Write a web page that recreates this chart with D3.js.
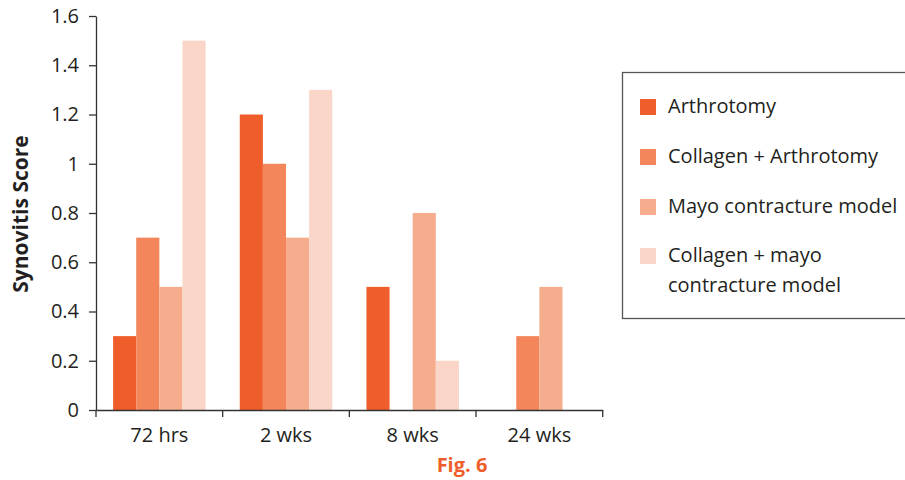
<!DOCTYPE html>
<html><head><meta charset="utf-8">
<script src="https://cdn.jsdelivr.net/npm/d3@7"></script>
<style>body{margin:0;background:#fff;} text{font-family:"Open Sans",sans-serif;}</style>
</head><body>
<svg id="chart" width="905" height="480"></svg>
<script>
const categories = ["72 hrs", "2 wks", "8 wks", "24 wks"];
const seriesNames = ["Arthrotomy", "Collagen + Arthrotomy", "Mayo contracture model", "Collagen + mayo contracture model"];
const arthrotomy = [0.3, 1.2, 0.5, 0];
const collagenArthrotomy = [0.7, 1.0, 0, 0.3];
const mayo = [0.5, 0.7, 0.8, 0.5];
const collagenMayo = [1.5, 1.3, 0.2, 0];
const yTicks = [0, 0.2, 0.4, 0.6, 0.8, 1, 1.2, 1.4, 1.6];
const colors = ["#EF5E2A", "#F3875B", "#F6AD8D", "#F9D6C7"];
const seriesValues = [arthrotomy, collagenArthrotomy, mayo, collagenMayo];

const svg = d3.select("#chart");
const mLeft = 96, mRight = 602.7, mTop = 16, mBottom = 410;
const axisColor = "#333";
const textColor = "#231f20";
const fs = "20px";

const x = d3.scaleBand().domain(categories).range([mLeft, mRight]).paddingInner(0.27).paddingOuter(0.135);
const x1 = d3.scaleBand().domain(seriesNames).range([0, x.bandwidth()]).padding(0);
const y = d3.scaleLinear().domain([0, 1.6]).range([mBottom, mTop]);

// bars
categories.forEach((c, ci) => {
  svg.append("g").selectAll("rect").data(seriesNames).join("rect")
    .attr("x", (s) => x(c) + x1(s))
    .attr("width", x1.bandwidth())
    .attr("y", (s, si) => y(seriesValues[si][ci]))
    .attr("height", (s, si) => y(0) - y(seriesValues[si][ci]))
    .attr("fill", (s, si) => colors[si]);
});

// y axis
const yAxis = svg.append("g").attr("transform", `translate(${mLeft},0)`)
  .call(d3.axisLeft(y).tickValues(yTicks).tickFormat(d3.format("~g")).tickSize(7).tickSizeOuter(0).tickPadding(10));
yAxis.select(".domain").attr("stroke", axisColor).attr("stroke-width", 1.3);
yAxis.selectAll(".tick line").attr("stroke", axisColor).attr("stroke-width", 1.3);
yAxis.selectAll(".tick text").attr("fill", textColor).style("font-size", fs).style("font-family", "'Open Sans',sans-serif");

// x axis
const xAxis = svg.append("g").attr("transform", `translate(0,${mBottom})`)
  .call(d3.axisBottom(x).tickSize(0).tickSizeOuter(0).tickPadding(18));
xAxis.select(".domain").attr("stroke", axisColor).attr("stroke-width", 1.3);
xAxis.selectAll(".tick text").attr("fill", textColor).style("font-size", fs).style("font-family", "'Open Sans',sans-serif");
const boundaries = categories.map(c => x(c) - x.step() * x.paddingInner() / 2).concat([mRight]);
xAxis.selectAll("line.sep").data(boundaries).join("line").attr("class", "sep")
  .attr("x1", d => d).attr("x2", d => d).attr("y1", 0).attr("y2", 7)
  .attr("stroke", axisColor).attr("stroke-width", 1.3);

// y title
svg.append("text").attr("transform", `translate(28,214) rotate(-90)`)
  .attr("text-anchor", "middle").style("font-size", "21px").style("font-weight", "bold")
  .attr("fill", textColor).text("Synovitis Score");

// fig label
svg.append("text").attr("x", 462).attr("y", 472).attr("text-anchor", "middle")
  .style("font-size", fs).style("font-weight", "bold").attr("fill", "#EF5E2A").text("Fig. 6");

// legend
const lg = svg.append("g");
lg.append("rect").attr("x", 622.5).attr("y", 72.5).attr("width", 300).attr("height", 246)
  .attr("fill", "none").attr("stroke", "#555").attr("stroke-width", 1.3);
const rowsY = [99, 149, 199, 248];
const labelLines = [["Arthrotomy"], ["Collagen + Arthrotomy"], ["Mayo contracture model"], ["Collagen + mayo", "contracture model"]];
seriesNames.forEach((s, i) => {
  lg.append("rect").attr("x", 640).attr("y", rowsY[i]).attr("width", 16).attr("height", 16).attr("fill", colors[i]);
  const t = lg.append("text").attr("x", 668).attr("y", rowsY[i] + 14).style("font-size", fs).attr("fill", textColor);
  labelLines[i].forEach((line, li) => {
    t.append("tspan").attr("x", 668).attr("dy", li === 0 ? 0 : 30).text(line);
  });
});
</script>
</body></html>
